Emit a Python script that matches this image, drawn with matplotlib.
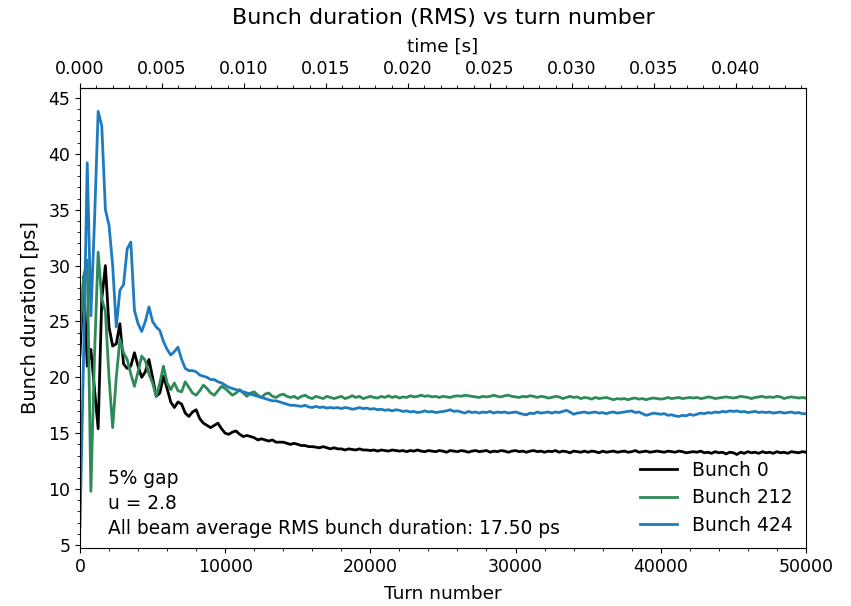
import numpy as np
import matplotlib
matplotlib.use("Agg")
import matplotlib.pyplot as plt
from matplotlib.ticker import MultipleLocator, FixedLocator, FormatStrFormatter

turn_step = 250
turns = np.arange(0, 50001, turn_step)
turn_period = 8.854e-7  # seconds per turn

bunch_0 = [
    22.0, 29.0, 21.0, 22.5, 19.0, 15.4, 27.0, 30.0, 24.5, 22.8,
    23.0, 24.8, 21.2, 20.8, 21.0, 22.2, 21.0, 20.0, 20.5, 21.6,
    20.0, 18.3, 18.6, 20.1, 19.0, 17.8, 17.3, 17.8, 17.6, 16.8,
    16.5, 16.9, 17.1, 16.3, 15.9, 15.7, 15.5, 15.7, 15.9, 15.4,
    15.0, 14.9, 15.1, 15.2, 14.9, 14.7, 14.8, 14.7, 14.6, 14.4,
    14.5, 14.4, 14.3, 14.4, 14.2, 14.2, 14.2, 14.1, 14.0, 14.1,
    14.0, 13.9, 13.9, 13.8, 13.8, 13.75, 13.7, 13.8, 13.7, 13.6,
    13.7, 13.6, 13.6, 13.5, 13.6, 13.55, 13.5, 13.6, 13.5, 13.5,
    13.45, 13.5, 13.4, 13.5, 13.45, 13.4, 13.5, 13.45, 13.4, 13.45,
    13.35, 13.45, 13.4, 13.5, 13.4, 13.35, 13.45, 13.4, 13.35, 13.45,
    13.4, 13.3, 13.45, 13.4, 13.35, 13.45, 13.4, 13.3, 13.4, 13.45,
    13.35, 13.4, 13.45, 13.3, 13.4, 13.35, 13.45, 13.4, 13.3, 13.4,
    13.45, 13.35, 13.4, 13.3, 13.4, 13.45, 13.35, 13.4, 13.3, 13.4,
    13.35, 13.45, 13.3, 13.4, 13.35, 13.25, 13.4, 13.35, 13.3, 13.4,
    13.3, 13.4, 13.35, 13.25, 13.4, 13.3, 13.35, 13.4, 13.3, 13.35,
    13.4, 13.3, 13.35, 13.45, 13.3, 13.35, 13.4, 13.3, 13.35, 13.4,
    13.35, 13.3, 13.4, 13.35, 13.3, 13.4, 13.35, 13.25, 13.3, 13.35,
    13.3, 13.4, 13.25, 13.3, 13.2, 13.35, 13.25, 13.3, 13.15, 13.3,
    13.25, 13.1, 13.3, 13.2, 13.35, 13.25, 13.3, 13.2, 13.35, 13.25,
    13.3, 13.2, 13.35, 13.25, 13.3, 13.2, 13.35, 13.3, 13.25, 13.35,
    13.3,
]

bunch_212 = [
    24.0, 29.0, 30.5, 9.8, 22.0, 31.2, 27.0, 25.9, 20.0, 15.5,
    20.0, 23.4, 22.2, 21.6, 20.3, 19.2, 20.5, 21.9, 21.5, 20.3,
    19.5, 18.3, 19.5, 21.0, 19.5, 18.9, 19.5, 18.8, 18.7, 19.6,
    19.1, 18.6, 18.4, 18.8, 19.3, 19.0, 18.6, 18.4, 18.8, 19.2,
    19.0, 18.7, 18.4, 18.6, 18.9, 18.6, 18.3, 18.6, 18.7, 18.4,
    18.2, 18.5, 18.6, 18.3, 18.2, 18.4, 18.5, 18.3, 18.2, 18.3,
    18.1, 18.3, 18.4, 18.2, 18.1, 18.3, 18.2, 18.1, 18.3, 18.2,
    18.1, 18.2, 18.3, 18.1, 18.2, 18.35, 18.2, 18.3, 18.1, 18.2,
    18.3, 18.2, 18.15, 18.3, 18.2, 18.35, 18.2, 18.3, 18.15, 18.25,
    18.2, 18.35, 18.25, 18.3, 18.4, 18.3, 18.35, 18.25, 18.3, 18.2,
    18.3, 18.25, 18.2, 18.3, 18.35, 18.3, 18.4, 18.35, 18.3, 18.25,
    18.2, 18.3, 18.25, 18.3, 18.4, 18.3, 18.25, 18.35, 18.4, 18.3,
    18.25, 18.2, 18.3, 18.25, 18.35, 18.3, 18.2, 18.3, 18.25, 18.15,
    18.2, 18.3, 18.25, 18.1, 18.2, 18.3, 18.2, 18.25, 18.1, 18.2,
    18.15, 18.05, 18.2, 18.1, 18.15, 18.2, 18.1, 18.0, 18.1, 18.05,
    18.1, 18.0, 18.1, 18.15, 18.05, 18.1, 18.0, 18.1, 18.15, 18.1,
    18.05, 18.1, 18.2, 18.1, 18.15, 18.2, 18.1, 18.15, 18.2, 18.15,
    18.2, 18.1, 18.15, 18.25, 18.2, 18.1, 18.15, 18.2, 18.25, 18.2,
    18.15, 18.2, 18.3, 18.25, 18.2, 18.1, 18.2, 18.25, 18.3, 18.2,
    18.25, 18.2, 18.3, 18.25, 18.1, 18.2, 18.25, 18.2, 18.15, 18.2,
    18.15,
]

bunch_424 = [
    6.6, 22.0, 39.2, 25.5, 34.0, 43.8, 42.5, 35.0, 33.6, 30.0,
    24.5, 27.8, 28.3, 31.5, 32.1, 26.0, 24.8, 24.1, 25.0, 26.3,
    25.0, 24.5, 24.2, 23.2, 22.5, 22.0, 22.3, 22.7, 21.6, 20.8,
    20.6, 20.6, 20.5, 20.2, 20.1, 20.0, 19.8, 19.8, 19.6, 19.5,
    19.3, 19.1, 19.0, 18.9, 18.8, 18.7, 18.6, 18.5, 18.4, 18.3,
    18.2, 18.1, 18.0, 17.9, 17.9, 17.8, 17.7, 17.6, 17.5, 17.5,
    17.45, 17.4, 17.5, 17.35, 17.3, 17.4, 17.3, 17.35, 17.25, 17.3,
    17.25, 17.3, 17.2, 17.3, 17.25, 17.15, 17.2, 17.3, 17.2, 17.25,
    17.15, 17.2, 17.1, 17.15, 17.05, 17.1, 17.0, 17.1, 17.05, 16.95,
    17.0, 16.9, 16.95, 16.85, 16.9, 17.0, 16.9, 16.95, 16.85, 16.9,
    16.95, 17.0, 17.1, 16.95, 17.0, 16.9, 16.8, 16.95, 16.85, 16.9,
    16.8, 16.9, 16.85, 16.95, 16.8, 16.9, 16.85, 16.9, 16.8, 16.85,
    16.9, 16.8, 16.7, 16.65, 16.8, 16.75, 16.9, 16.8, 16.85, 16.9,
    16.8, 16.9, 16.85, 16.95, 17.05, 16.9, 16.7, 16.8, 16.85, 16.9,
    16.8, 16.85, 16.9, 16.8, 16.85, 16.75, 16.85, 16.9, 16.8, 16.85,
    16.9, 16.95, 17.0, 16.85, 16.9, 16.75, 16.6, 16.7, 16.8, 16.75,
    16.7, 16.75, 16.6, 16.65, 16.55, 16.5, 16.6, 16.55, 16.7, 16.6,
    16.7, 16.8, 16.75, 16.85, 16.8, 16.9, 16.85, 16.95, 16.9, 17.0,
    16.95, 17.0, 16.9, 16.95, 16.85, 16.9, 16.95, 16.85, 16.9, 16.85,
    16.9, 16.8, 16.85, 16.9, 16.8, 16.85, 16.9, 16.8, 16.85, 16.75,
    16.75,
]

series_labels = ["Bunch 0", "Bunch 212", "Bunch 424"]
series_colors = ["#000000", "#2e8b57", "#1f7bbf"]
time_ticks = [0.000, 0.005, 0.010, 0.015, 0.020, 0.025, 0.030, 0.035, 0.040]
info_text = "5% gap\nu = 2.8\nAll beam average RMS bunch duration: 17.50 ps"

fig = plt.figure(figsize=(8.51, 6.06), dpi=100)
ax = fig.add_axes([0.094, 0.0957, 0.853, 0.7593])

for data, lab, col in zip([bunch_0, bunch_212, bunch_424], series_labels, series_colors):
    ax.plot(turns, data, color=col, lw=2.0, label=lab)

ax.set_xlim(0, 50000)
ax.set_ylim(4.73, 45.9)
ax.xaxis.set_major_locator(MultipleLocator(10000))
ax.xaxis.set_minor_locator(MultipleLocator(2000))
ax.yaxis.set_major_locator(MultipleLocator(5))
ax.yaxis.set_minor_locator(MultipleLocator(1))
ax.tick_params(labelsize=12.5)
ax.set_xlabel("Turn number", fontsize=13.3, labelpad=7)
ax.set_ylabel("Bunch duration [ps]", fontsize=14, labelpad=6)

sec = ax.secondary_xaxis("top", functions=(lambda x: x * turn_period, lambda t: t / turn_period))
sec.xaxis.set_major_locator(FixedLocator(time_ticks))
sec.xaxis.set_minor_locator(FixedLocator(np.arange(0, 0.0445, 0.001)))
sec.xaxis.set_major_formatter(FormatStrFormatter("%.3f"))
sec.tick_params(labelsize=12.5)
sec.set_xlabel("time [s]", fontsize=13.2, labelpad=6)

ax.set_title("Bunch duration (RMS) vs turn number", fontsize=16, pad=10)

ax.legend(loc="lower right", frameon=False, fontsize=13.5, handlelength=2.0,
          borderaxespad=0.3, labelspacing=0.45)
ax.text(0.039, 0.022, info_text, transform=ax.transAxes, fontsize=13.4,
        ha="left", va="bottom", linespacing=1.4)

fig.savefig("out.png", dpi=100)
